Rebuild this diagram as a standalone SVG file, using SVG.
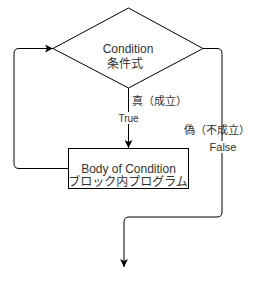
<svg xmlns="http://www.w3.org/2000/svg" width="254" height="281" viewBox="0 0 254 281">
<style>
.shape{fill:#fff;stroke:#000;stroke-width:1}
.edge{fill:none;stroke:#000;stroke-width:1}
.t{font-family:"Liberation Sans","Noto Sans CJK JP",sans-serif;fill:#333;text-anchor:middle}
.bg{fill:#fff}
</style>
<defs>
<marker id="arr" viewBox="0 0 8 8" refX="8" refY="4" markerWidth="8" markerHeight="8" markerUnits="userSpaceOnUse" orient="auto">
<path d="M0,0 L8,4 L0,8 L2,4 Z" fill="#000"/>
</marker>
</defs>
<rect width="254" height="281" fill="#fff"/>
<g id="connectors">
<path class="edge" d="M128.5,88 L128.5,148" marker-end="url(#arr)"/>
<path class="edge" d="M68,168.5 L19,168.5 Q14,168.5 14,163.5 L14,53.5 Q14,48.5 19,48.5 L53,48.5" marker-end="url(#arr)"/>
<path class="edge" d="M203,48.5 L217,48.5 Q222,48.5 222,53.5 L222,212 Q222,217 217,217 L129,217 Q124,217 124,222 L124,267" marker-end="url(#arr)"/>
</g>
<g id="label-true">
<text class="t" x="132" y="105" font-size="11" text-anchor="start" style="text-anchor:start">真（成立）</text>
<rect class="bg" x="118" y="112" width="21" height="12"/>
<text class="t" x="128.5" y="122" font-size="10">True</text>
</g>
<g id="label-false">
<text class="t" x="217" y="134" font-size="11">偽（不成立）</text>
<rect class="bg" x="209" y="141" width="28" height="12"/>
<text class="t" x="223" y="151" font-size="11">False</text>
</g>
<g id="condition">
<path class="shape" d="M128.5,8 L203,48.5 L128.5,88 L53,48.5 Z"/>
<text class="t" x="128" y="53" font-size="12">Condition</text>
<text class="t" x="125" y="68" font-size="12">条件式</text>
</g>
<g id="body">
<rect class="shape" x="68.5" y="148.5" width="120" height="40"/>
<text class="t" x="128.5" y="173" font-size="12">Body of Condition</text>
<text class="t" x="128" y="186" font-size="12">ブロック内プログラム</text>
</g>
</svg>
